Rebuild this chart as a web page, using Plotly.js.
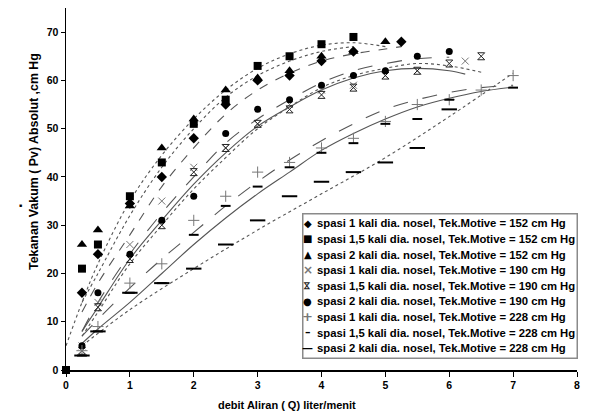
<!DOCTYPE html>
<html><head><meta charset="utf-8">
<script src="https://cdn.plot.ly/plotly-3.0.1.min.js"></script>
<style>html,body{margin:0;padding:0;background:#fff}#c{width:589px;height:415px}</style>
</head><body><div id="c"></div>
<script>
// ---- series names ----
const names = [
  "spasi 1 kali dia. nosel, Tek.Motive = 152 cm Hg",
  "spasi 1,5 kali dia. nosel, Tek.Motive = 152 cm Hg",
  "spasi 2 kali dia. nosel, Tek.Motive = 152 cm Hg",
  "spasi 1 kali dia. nosel, Tek.Motive = 190 cm Hg",
  "spasi 1,5 kali dia. nosel, Tek.Motive = 190 cm Hg",
  "spasi 2 kali dia. nosel, Tek.Motive = 190 cm Hg",
  "spasi 1 kali dia. nosel, Tek.Motive = 228 cm Hg",
  "spasi 1,5 kali dia. nosel, Tek.Motive = 228 cm Hg",
  "spasi 2 kali dia. nosel, Tek.Motive = 228 cm Hg"
];
// ---- measured points ----
const x1 = [0.25,0.5,1,1.5,2,2.5,3,3.5,4,4.5,5.25];
const y1 = [16,24,34.5,40,48,55,60,61,64,66,68];
const x2 = [0,0.25,0.5,1,1.5,2,2.5,3,3.5,4,4.5];
const y2 = [0,21,26,36,43,51,56,63,65,67.5,69];
const x3 = [0.25,0.5,1,1.5,2,2.5,3,3.5,4,4.5,5];
const y3 = [26,29,34,46,52,58,60.5,62,65,66,68];
const x4 = [0.25,0.5,1,1.5,2,2.5,3,3.5,4,4.5,5,5.5,6.25];
const y4 = [5,14,26,35,42,46,51,55,58,59,61,62,64];
const x5 = [0.25,0.5,1,1.5,2,2.5,3,3.5,4,4.5,5,5.5,6,6.5];
const y5 = [4,13,23,30,41,46,51,54,57,58.5,61,62,63.5,65];
const x6 = [0.25,0.5,1,1.5,2,2.5,3,3.5,4,4.5,5,5.5,6];
const y6 = [5,16,24,31,36,49,54,56,59,61,62,65,66];
const x7 = [0.25,0.5,1,1.5,2,2.5,3,3.5,4,4.5,5,5.5,6,6.5,7];
const y7 = [4,9,18,22,31,36,41,43,46,48,51.5,55,56,58,61];
const x8 = [0.25,0.5,1,1.5,2,2.5,3,3.5,4,4.5,5,5.5,6,7];
const y8 = [3,8,16,18,28,34,38,42,45,47,51,52,56,58.5];
const x9 = [0.25,0.5,1,1.5,2,2.5,3,3.5,4,4.5,5,5.5,6];
const y9 = [3,8,16,18,21,26,31,36,39,41,43,46,54];
// ---- trendlines ----
const tx1 = [0.25,0.5,1,1.5,2,2.5,3,3.5,4,4.5,5,5.25];
const ty1 = [12,18,28,38,46,53,58,61.5,64,65.5,66.5,67];
const tx2 = [0.25,0.5,1,1.5,2,2.5,3,3.5,4,4.5];
const ty2 = [14,20,32,42,50,56.5,61,64,66,67];
const tx3 = [0,0.25,0.5,1,1.5,2,2.5,3,3.5,4,4.5,5];
const ty3 = [5,14,22,35,44.5,52,58,62.5,65.5,67.3,67.8,67];
const tx4 = [0.25,0.5,1,1.5,2,2.5,3,3.5,4,4.5,5,5.5,6,6.25];
const ty4 = [8,13,23,31,38.5,45,50.5,54.5,58,60.5,62,62.5,62,61.3];
const tx5 = [0.25,0.5,1,1.5,2,2.5,3,3.5,4,4.5,5,5.5,6,6.5];
const ty5 = [7,12,22,30,37.5,44,50,54.5,58.5,61,62.5,63.5,63,61.7];
const tx6 = [0.25,0.5,1,1.5,2,2.5,3,3.5,4,4.5,5,5.5,6];
const ty6 = [8,14,24,32.5,40,47,52,56,59.5,62,63.5,64.5,64.8];
const tx7 = [0.25,0.5,1,1.5,2,2.5,3,3.5,4,4.5,5,5.5,6,6.5,7];
const ty7 = [7,10.5,17,23,28.5,34,39,43.5,47.5,51,54,56,57.5,58.5,59];
const tx8 = [0.25,0.5,1,1.5,2,2.5,3,3.5,4,4.5,5,5.5,6,6.5,7];
const ty8 = [5.5,8.5,14,20,26,31.5,36.5,41,45.5,49,52,54.5,56.3,57.7,58.6];
const tx9 = [0.25,1,2,3,4,5,6,7];
const ty9 = [5,12.5,21,29,36.5,44,52.5,61.5];
// ---- axis ticks ----
const xTicks = [0,1,2,3,4,5,6,7,8];
const yTicks = [0,10,20,30,40,50,60,70];
// ---- legend glyphs ----
const legendGlyphs = ['◆','■','▲','×','⋈','●','+','–','—'];

const W = 589, H = 415, ML = 66, MR = 12, MT = 8, MB = 45;
const PW = W - ML - MR, PH = H - MT - MB;
const px = v => (v - ML) / PW;          // pixel -> paper x
const py = v => (H - MB - v) / PH;      // pixel -> paper y

const pts = [[x1,y1],[x2,y2],[x3,y3],[x4,y4],[x5,y5],[x6,y6],[x7,y7],[x8,y8],[x9,y9]];
const trends = [[tx1,ty1],[tx2,ty2],[tx3,ty3],[tx4,ty4],[tx5,ty5],[tx6,ty6],[tx7,ty7],[tx8,ty8],[tx9,ty9]];
const markers = [
  {symbol:'diamond', size:8, color:'#000'},
  {symbol:'square', size:8, color:'#000'},
  {symbol:'triangle-up', size:9, color:'#000'},
  {symbol:'x-thin-open', size:7, color:'#777', line:{color:'#777', width:1}},
  {symbol:'hourglass-open', size:7, color:'#222', line:{color:'#222', width:1}},
  {symbol:'circle', size:7, color:'#000'},
  {symbol:'cross-thin-open', size:8, color:'#777', line:{color:'#777', width:1}},
  {symbol:'line-ew-open', size:7, color:'#000', line:{color:'#000', width:2}},
  {symbol:'line-ew-open', size:11, color:'#000', line:{color:'#000', width:2}}
];
const dashes = ['dash','dot','dot','solid','dot','longdash','longdash','solid','dot'];

const data = [];
trends.forEach((t,i)=>{
  data.push({x:t[0], y:t[1], mode:'lines', type:'scatter', showlegend:false, hoverinfo:'skip',
    line:{color:'#555', width:1.1, dash:dashes[i], shape:'spline'}});
});
pts.forEach((p,i)=>{
  data.push({x:p[0], y:p[1], mode:'markers', type:'scatter', name:names[i], showlegend:false,
    marker:markers[i], cliponaxis:false});
});

// ---- custom legend: annotation box, labels and glyph symbols ----
const LEG = {left:302, right:577, top:213, bottom:358, row0:223.3, step:15.6, symX:307.5, textX:315};
const F = 'Liberation Sans, Arial, sans-serif';
const glyphStyle = [
  {size:10, color:'#000'}, {size:10, color:'#000'}, {size:10, color:'#000'},
  {size:12, color:'#777'}, {size:9, color:'#222', angle:90}, {size:10, color:'#000'},
  {size:13, color:'#777'}, {size:11, color:'#000'}, {size:11, color:'#000'}
];
const annotations = [
  {text:'debit Aliran ( Q) liter/menit', xref:'paper', yref:'paper', x:px(287), y:py(405),
   xanchor:'center', yanchor:'middle', showarrow:false, font:{family:F, size:11, weight:'bold'}},
  {text:'Tekanan Vakum ( Pv) Absolut ,cm Hg', xref:'paper', yref:'paper', x:px(34), y:py(162),
   xanchor:'center', yanchor:'middle', textangle:-90, showarrow:false, font:{family:F, size:12.4, weight:'bold'}},
  {text:'■', xref:'paper', yref:'paper', x:px(20), y:py(205), xanchor:'center', yanchor:'middle',
   showarrow:false, font:{size:5, color:'#000'}},
  {text:'\u00a0', xref:'paper', yref:'paper', x:px(LEG.left), y:py(LEG.top), xanchor:'left', yanchor:'top',
   width:LEG.right-LEG.left-2, height:LEG.bottom-LEG.top-2, borderpad:0, bgcolor:'#ffffff',
   bordercolor:'#8a8a8a', borderwidth:1.5, showarrow:false, font:{size:10}}
];
names.forEach((n,i)=>{
  const yy = LEG.row0 + LEG.step*i;
  annotations.push({text:n, xref:'paper', yref:'paper', x:px(LEG.textX), y:py(yy), xanchor:'left', yanchor:'middle',
    showarrow:false, font:{family:F, size:11.3, weight:'bold', color:'#000'}});
  const g = glyphStyle[i];
  annotations.push({text:legendGlyphs[i], xref:'paper', yref:'paper', x:px(LEG.symX), y:py(yy),
    xanchor:'center', yanchor:'middle', showarrow:false, textangle:g.angle||0,
    font:{family:'DejaVu Sans, sans-serif', size:g.size, color:g.color, weight:'bold'}});
});

const layout = {
  width:W, height:H,
  margin:{l:ML, r:MR, t:MT, b:MB},
  paper_bgcolor:'#fff', plot_bgcolor:'#fff',
  font:{family:F, color:'#000', size:10, weight:'bold'},
  showlegend:false,
  xaxis:{range:[0,8], tickvals:xTicks, showgrid:false, zeroline:false, showline:true,
    linecolor:'#000', linewidth:1.5, ticks:'outside', ticklen:5, tickcolor:'#000', tickwidth:1,
    tickfont:{family:F, size:10.5, weight:'bold'}, fixedrange:true},
  yaxis:{range:[0,75], tickvals:yTicks, showgrid:false, zeroline:false, showline:true,
    linecolor:'#000', linewidth:1.5, ticks:'outside', ticklen:4, tickcolor:'#000', tickwidth:1,
    tickfont:{family:F, size:10.5, weight:'bold'}, fixedrange:true},
  annotations:annotations
};
Plotly.newPlot('c', data, layout, {displayModeBar:false, staticPlot:true});
</script></body></html>
